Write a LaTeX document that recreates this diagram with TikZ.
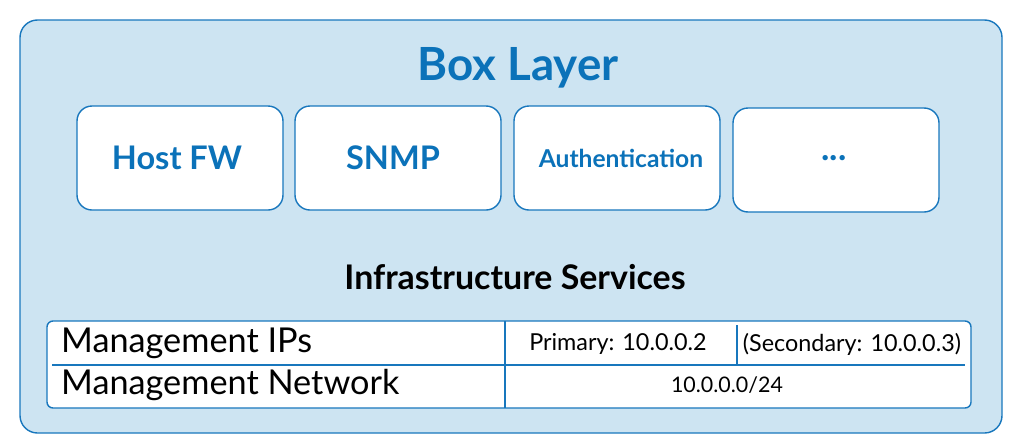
\documentclass[tikz,border=0pt]{standalone}
\usepackage{fontspec}
\setmainfont{Lato}
\definecolor{bl}{HTML}{1877BD}
\definecolor{bgb}{HTML}{CDE4F2}
\definecolor{tb}{HTML}{0B72B9}
\begin{document}
\begin{tikzpicture}[x=0.02cm,y=-0.02cm,
  svc/.style={draw=bl,line width=0.8pt,fill=white,rounded corners=0.3cm},
  svct/.style={text=tb,font=\bfseries\fontsize{18.5}{21}\selectfont},
  tt/.style={font=\fontsize{19.5}{22}\selectfont,anchor=west},
  st/.style={font=\fontsize{13.3}{15}\selectfont}]
\useasboundingbox (0,0) rectangle (1023,447);
\draw[draw=bl,fill=bgb,line width=0.8pt,rounded corners=0.35cm] (20,20) rectangle (1002,433);
\node[text=tb,font=\bfseries\fontsize{26}{30}\selectfont] (title) at (518,68) {Box Layer};
\draw[svc] (77,106) rectangle (283,210); \node[svct] (fw) at (177,158) {Host FW};
\draw[svc] (295,106) rectangle (501,210); \node[svct] (snmp) at (393,158) {SNMP};
\draw[svc] (514,106) rectangle (720,210); \node[svct,font=\bfseries\fontsize{14}{16}\selectfont] (auth) at (621,158) {Authentication};
\draw[svc] (733,108) rectangle (939,212); \node[svct,font=\bfseries\fontsize{20}{22}\selectfont] (dots) at (834,158) {...};
\node[font=\bfseries\fontsize{19.3}{22}\selectfont] (infra) at (515,277) {Infrastructure Services};
\draw[draw=bl,fill=white,line width=0.8pt,rounded corners=0.12cm] (47,321) rectangle (971,408);
\draw[bl,line width=0.8pt] (52,365) -- (965,365);
\draw[bl,line width=0.8pt] (505,321) -- (505,408);
\draw[bl,line width=0.8pt] (737,325) -- (737,365);
\node[tt] (mip) at (55,343) {Management IPs};
\node[tt] (mnet) at (55,385) {Management Network};
\node[st] (pri) at (618,344) {Primary: 10.0.0.2};
\node[st] (sec) at (852,344) {(Secondary: 10.0.0.3)};
\node[font=\fontsize{12.2}{14}\selectfont] (net) at (727,385) {10.0.0.0/24};
\end{tikzpicture}
\end{document}
